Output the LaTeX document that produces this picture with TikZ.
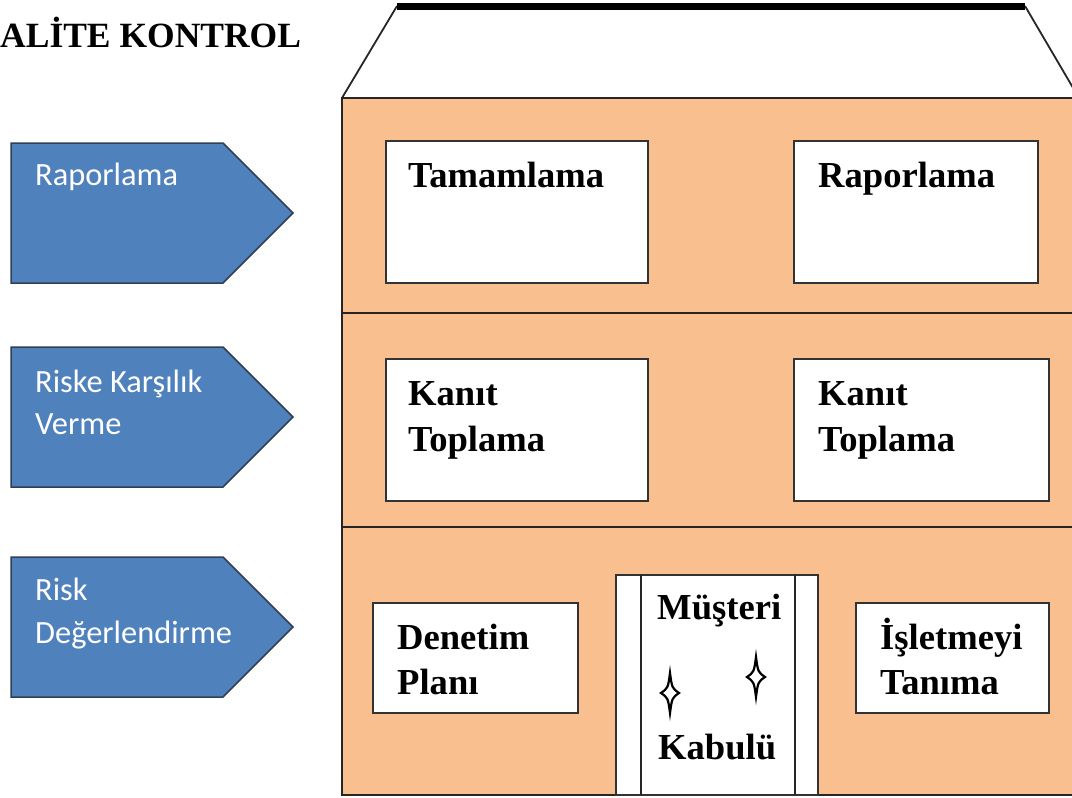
\documentclass[tikz,border=0pt]{standalone}
\usepackage{fontspec}
\setmainfont{Liberation Serif}
\newfontfamily\carl{Carlito}
\definecolor{peach}{HTML}{F9BF8F}
\definecolor{arrowblue}{HTML}{4F81BD}
\definecolor{arrowedge}{HTML}{2F3F55}
\tikzset{
  wall/.style={draw=black!85, line width=1.8pt},
  whitebox/.style={draw=black!80, fill=white, line width=2.2pt},
  boxtext/.style={anchor=base west, inner sep=0pt, font=\fontsize{36.6}{42}\selectfont\bfseries},
  arrowshape/.style={fill=arrowblue, draw=arrowedge, line width=1.5pt, line join=miter},
  arrowtext/.style={anchor=base west, inner sep=0pt, text=white, font=\carl\fontsize{32.4}{40}\selectfont},
  starline/.style={draw=black, fill=white, line width=2.2pt},
  sparkle/.pic={\draw[starline] (0,-20) .. controls (2,-5) .. (9,0) .. controls (2,5) .. (0,20) .. controls (-2,5) .. (-9,0) .. controls (-2,-5) .. (0,-20) -- cycle;}
}
\begin{document}
\begin{tikzpicture}[x=1pt,y=-1pt]
\useasboundingbox (0,0) rectangle (1072,798);
% title
\node[anchor=base west, inner sep=0pt, font=\fontsize{35.5}{40}\selectfont\bfseries] (title) at (0,47) {ALİTE KONTROL};
% arrows
\draw[arrowshape] (11,143) -- (223,143) -- (293,213) -- (223,283) -- (11,283) -- cycle;
\draw[arrowshape] (11,347) -- (223,347) -- (293,417) -- (223,487) -- (11,487) -- cycle;
\draw[arrowshape] (11,557) -- (223,557) -- (293,627) -- (223,697) -- (11,697) -- cycle;
\node[arrowtext] (a1) at (35,185) {Raporlama};
\node[arrowtext] (a2a) at (35,392) {Riske Karşılık};
\node[arrowtext] (a2b) at (35,434) {Verme};
\node[arrowtext] (a3a) at (35,600) {Risk};
\node[arrowtext] (a3b) at (35,643) {Değerlendirme};
% roof
\draw[wall] (342,98) -- (397,6);
\draw[wall] (1025,6) -- (1079,98);
\draw[line width=7pt, line cap=butt] (397,6.5) -- (1025,6.5);
% body
\draw[wall, fill=peach] (342,98) rectangle (1090,795);
\draw[wall] (342,313) -- (1090,313);
\draw[wall] (342,527) -- (1090,527);
% boxes
\draw[whitebox] (386,141) rectangle (648,283);
\draw[whitebox] (794,141) rectangle (1038,283);
\draw[whitebox] (386,359) rectangle (648,501);
\draw[whitebox] (794,359) rectangle (1049,501);
\draw[whitebox] (373,603) rectangle (578,713);
\draw[whitebox] (856,603) rectangle (1049,713);
% door
\draw[whitebox] (616,575) rectangle (818,795);
\draw[wall] (641,575) -- (641,795);
\draw[wall] (795,575) -- (795,795);
\pic at (670,693) {sparkle};
\pic at (756,677) {sparkle};
% texts
\node[boxtext] (tam) at (408,187) {Tamamlama};
\node[boxtext] (rap) at (818,187) {Raporlama};
\node[boxtext] (k1a) at (408,405) {Kanıt};
\node[boxtext] (k1b) at (408,451) {Toplama};
\node[boxtext] (k2a) at (818,405) {Kanıt};
\node[boxtext] (k2b) at (818,451) {Toplama};
\node[boxtext] (den) at (397,649) {Denetim};
\node[boxtext] (pla) at (397,694) {Planı};
\node[boxtext] (mus) at (657,619) {Müşteri};
\node[boxtext] (kab) at (658,759) {Kabulü};
\node[boxtext] (isl) at (880,649) {İşletmeyi};
\node[boxtext] (tan) at (880,694) {Tanıma};
\end{tikzpicture}
\end{document}
